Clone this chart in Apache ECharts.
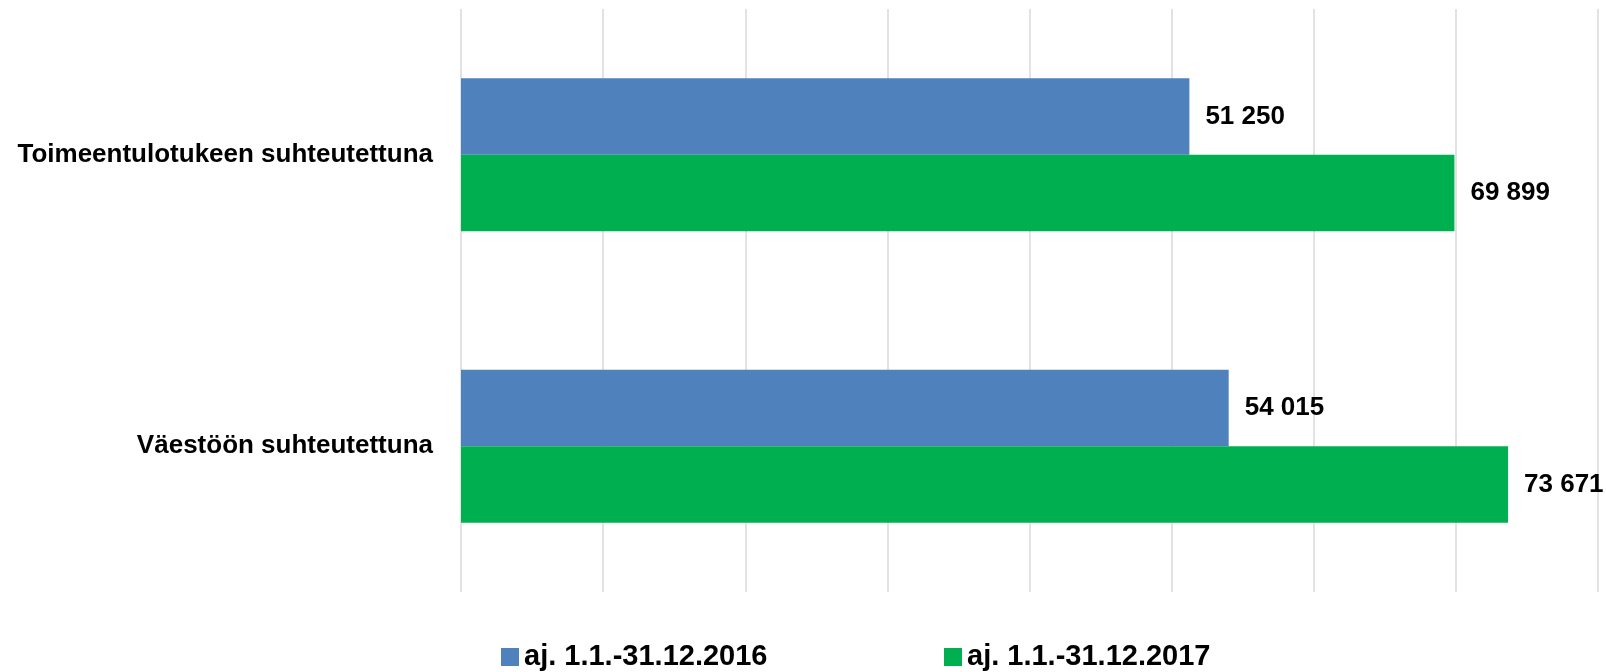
<!DOCTYPE html>
<html>
<head>
<meta charset="utf-8">
<script src="https://cdn.jsdelivr.net/npm/echarts@6/dist/echarts.min.js"></script>
<style>
  html, body { margin: 0; padding: 0; background: #fff; }
  #chart { width: 1606px; height: 672px; }
</style>
</head>
<body>
<div id="chart"></div>
<script>
const categories = ["Toimeentulotukeen suhteutettuna", "Väestöön suhteutettuna"];
const seriesNames = ["aj. 1.1.-31.12.2016", "aj. 1.1.-31.12.2017"];
const values2016 = [51250, 54015];
const values2017 = [69899, 73671];

const FONT = "'Liberation Sans', Arial, sans-serif";

const fmt = (v) => String(v).replace(/\B(?=(\d{3})+(?!\d))/g, " ");

const labelStyle = {
  show: true,
  position: "right",
  distance: 16,
  color: "#000",
  fontFamily: FONT,
  fontWeight: "bold",
  fontSize: 26,
  formatter: (p) => fmt(p.value),
};

const legendText = {
  color: "#000",
  fontFamily: FONT,
  fontWeight: "bold",
  fontSize: 29,
  lineHeight: 30,
};

const chart = echarts.init(document.getElementById("chart"));
chart.setOption({
  animation: false,
  backgroundColor: "#fff",
  grid: {
    left: 461,
    right: 8,
    top: 9,
    bottom: 80,
    outerBoundsMode: "none",
  },
  legend: [
    {
      data: [seriesNames[0]],
      left: 501,
      top: 642,
      padding: 0,
      icon: "rect",
      itemWidth: 18,
      itemHeight: 18,
      itemGap: 0,
      textStyle: legendText,
    },
    {
      data: [seriesNames[1]],
      left: 944,
      top: 642,
      padding: 0,
      icon: "rect",
      itemWidth: 18,
      itemHeight: 18,
      itemGap: 0,
      textStyle: legendText,
    },
  ],
  xAxis: {
    type: "value",
    min: 0,
    max: 80000,
    interval: 10000,
    axisLabel: { show: false },
    axisLine: { show: false },
    axisTick: { show: false },
    splitLine: { lineStyle: { color: "#D9D9D9", width: 1.5 } },
  },
  yAxis: {
    type: "category",
    inverse: true,
    data: categories,
    axisLine: { show: false },
    axisTick: { show: false },
    axisLabel: {
      margin: 28,
      color: "#000",
      fontFamily: FONT,
      fontWeight: "bold",
      fontSize: 26,
    },
  },
  series: [
    {
      name: seriesNames[0],
      type: "bar",
      data: values2016,
      itemStyle: { color: "#4F81BD" },
      barGap: "0%",
      barCategoryGap: "47.5%",
      label: labelStyle,
    },
    {
      name: seriesNames[1],
      type: "bar",
      data: values2017,
      itemStyle: { color: "#00B050" },
      barGap: "0%",
      barCategoryGap: "47.5%",
      label: labelStyle,
    },
  ],
});
</script>
</body>
</html>
